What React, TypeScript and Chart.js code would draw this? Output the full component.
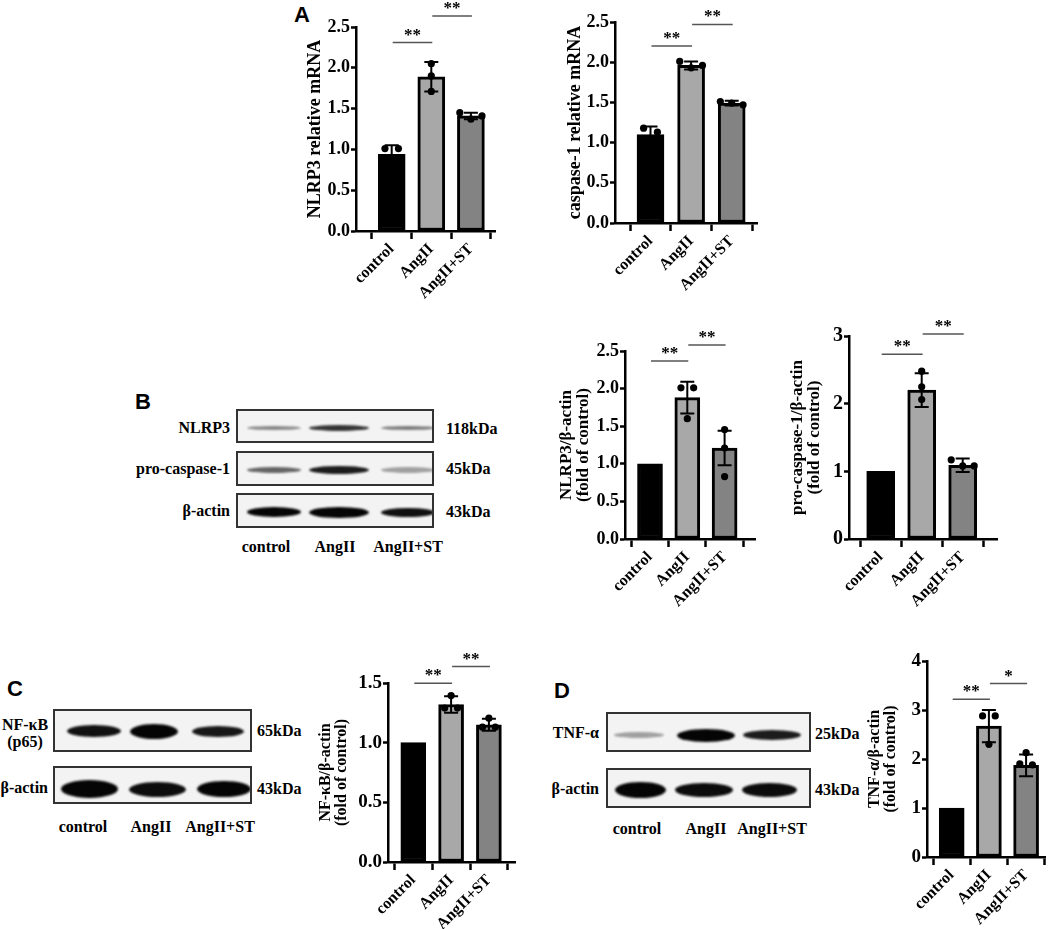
import React, { useEffect, useRef } from 'react';
import { Chart, registerables } from 'chart.js';

Chart.register(...registerables);

const SERIF = '"Liberation Serif", "Times New Roman", serif';
const SANS = '"Liberation Sans", Arial, sans-serif';

// ---------- data ----------
const groups = ['control', 'AngII', 'AngII+ST'];
const barFills = ['#000000', '#a8a8a8', '#838383'];

// Panel A: relative mRNA
const nlrp3MrnaMean = [0.94, 1.89, 1.41];
const nlrp3MrnaSd = [0.11, 0.18, 0.04];
const nlrp3MrnaPoints = [[1.01, 1.01, 0.8], [2.05, 1.9, 1.71], [1.45, 1.37, 1.41]];
const nlrp3MrnaSig = ['**', '**'];

const casp1MrnaMean = [1.1, 1.96, 1.49];
const casp1MrnaSd = [0.1, 0.05, 0.03];
const casp1MrnaPoints = [[1.18, 1.13, 0.99], [2.01, 1.93, 1.96], [1.51, 1.49, 1.47]];
const casp1MrnaSig = ['**', '**'];

const mrnaTicks = [0, 0.5, 1.0, 1.5, 2.0, 2.5];

// Panel B: protein / beta-actin
const nlrp3ProtMean = [1.0, 1.88, 1.21];
const nlrp3ProtSd = [null, 0.21, 0.23];
const nlrp3ProtPoints = [[], [2.01, 2.01, 1.6], [1.455, 1.21, 0.83]];
const nlrp3ProtSig = ['**', '**'];
const nlrp3ProtTicks = [0, 0.5, 1.0, 1.5, 2.0, 2.5];

const procaspMean = [1.0, 2.2, 1.09];
const procaspSd = [null, 0.25, 0.1];
const procaspPoints = [[], [2.48, 2.25, 2.06], [1.17, 1.08, 1.08]];
const procaspSig = ['**', '**'];
const procaspTicks = [0, 1, 2, 3];

// Panel C
const nfkbMean = [1.0, 1.32, 1.15];
const nfkbSd = [null, 0.07, 0.05];
const nfkbPoints = [[], [1.395, 1.29, 1.29], [1.205, 1.13, 1.13]];
const nfkbSig = ['**', '**'];
const nfkbTicks = [0, 0.5, 1.0, 1.5];

// Panel D
const tnfMean = [1.0, 2.67, 1.87];
const tnfSd = [null, 0.33, 0.22];
const tnfPoints = [[], [2.88, 2.88, 2.3], [2.13, 1.9, 1.88]];
const tnfSig = ['**', '*'];
const tnfTicks = [0, 1, 2, 3, 4];

// Western blot band intensities (per lane)
const bNlrp3Bands = [0.45, 0.8, 0.5];
const bProcaspBands = [0.6, 0.9, 0.35];
const bActinBands = [1, 1, 0.95];
const cNfkbBands = [0.95, 1, 0.92];
const cActinBands = [1, 0.97, 1];
const dTnfBands = [0.35, 1, 0.9];
const dActinBands = [1, 0.97, 0.97];

// ---------- chart component ----------
type Sig = { from: number; to: number; y: number };
type ChartSpec = {
  title: string | string[];
  mean: number[];
  sd: (number | null)[];
  points: number[][];
  ticks: number[];
  decimals: number;
  sigText: string[];
  sig: Sig[];
  axisX: number;
  endX: number;
  x0: number;
  dx: number;
  topY: number;
  zeroY: number;
  barPx: number;
  titleDist: number;
  tickSize: number;
  titleSize: number;
};

function spreadOffsets(values: number[], tol: number): number[] {
  const n = values.length;
  const parent = values.map((_, i) => i);
  const find = (i: number): number => (parent[i] === i ? i : (parent[i] = find(parent[i])));
  for (let i = 0; i < n; i++)
    for (let j = i + 1; j < n; j++)
      if (Math.abs(values[i] - values[j]) < tol) parent[find(i)] = find(j);
  const clusters: Record<number, number[]> = {};
  for (let i = 0; i < n; i++) {
    const r = find(i);
    (clusters[r] = clusters[r] || []).push(i);
  }
  const out = new Array(n).fill(0);
  Object.values(clusters).forEach((idx) => {
    if (idx.length === 2) {
      out[idx[0]] = -0.17;
      out[idx[1]] = 0.17;
    } else if (idx.length >= 3) {
      idx.forEach((k, m) => (out[k] = (m - (idx.length - 1) / 2) * 0.28));
    }
  });
  return out;
}

const W = 85;
const H = 90;
const T = 42;
const R = 8;

function BarChart({ spec }: { spec: ChartSpec }) {
  const ref = useRef<HTMLCanvasElement>(null);
  const left = Math.round(spec.axisX) - W;
  const top = Math.round(spec.topY) - T;
  const width = W + Math.round(spec.endX - spec.axisX) + R;
  const height = T + Math.round(spec.zeroY - spec.topY) + H;

  useEffect(() => {
    const ymax = spec.ticks[spec.ticks.length - 1];
    const xmin = (spec.axisX - spec.x0) / spec.dx;
    const xmax = (spec.endX - spec.x0) / spec.dx;
    const scatter: { x: number; y: number }[] = [];
    spec.points.forEach((vals, i) => {
      const offs = spreadOffsets(vals, ymax * 0.035);
      vals.forEach((v, k) => scatter.push({ x: i + offs[k], y: v }));
    });
    const lh = 1.0;
    const titleFont = { family: SERIF, size: spec.titleSize, weight: 'bold' as const, lineHeight: lh };
    const titlePad = W - spec.titleDist - (spec.titleSize * lh) / 2;

    const overlay = {
      id: 'overlay',
      afterDatasetsDraw(chart: any) {
        const ctx = chart.ctx;
        const xs = chart.scales.x;
        const ys = chart.scales.y;
        ctx.save();
        // error bars
        ctx.strokeStyle = '#000';
        ctx.lineWidth = 2;
        spec.mean.forEach((m, i) => {
          const s = spec.sd[i];
          if (s == null) return;
          const px = xs.getPixelForValue(i);
          const yt = ys.getPixelForValue(m + s);
          const yb = ys.getPixelForValue(m - s);
          ctx.beginPath();
          ctx.moveTo(px, yt);
          ctx.lineTo(px, yb);
          ctx.moveTo(px - 7, yt);
          ctx.lineTo(px + 7, yt);
          ctx.moveTo(px - 7, yb);
          ctx.lineTo(px + 7, yb);
          ctx.stroke();
        });
        // significance brackets
        ctx.strokeStyle = '#555';
        ctx.lineWidth = 1.5;
        ctx.fillStyle = '#000';
        ctx.font = `bold 17px ${SERIF}`;
        ctx.textAlign = 'center';
        ctx.textBaseline = 'alphabetic';
        spec.sig.forEach((sg, k) => {
          const x1 = xs.getPixelForValue(sg.from) + 1;
          const x2 = xs.getPixelForValue(sg.to) + 1;
          const y = ys.getPixelForValue(sg.y);
          ctx.beginPath();
          ctx.moveTo(x1, y);
          ctx.lineTo(x2, y);
          ctx.stroke();
          ctx.fillText(spec.sigText[k], (x1 + x2) / 2, y - 3);
        });
        ctx.restore();
      },
    };

    const chart = new Chart(ref.current!, {
      type: 'bar',
      data: {
        datasets: [
          {
            type: 'bar',
            data: groups.map((_, i) => ({ x: i, y: spec.mean[i] })),
            backgroundColor: barFills,
            borderColor: '#000',
            borderWidth: 3,
            borderSkipped: false,
            barThickness: spec.barPx,
            order: 2,
          } as any,
          {
            type: 'scatter',
            data: scatter,
            pointRadius: 3.6,
            pointBackgroundColor: '#000',
            pointBorderWidth: 0,
            showLine: false,
            order: 1,
          } as any,
        ],
      },
      options: {
        responsive: false,
        animation: false,
        events: [],
        layout: { padding: { left: 0, right: R, top: T, bottom: 0 } },
        plugins: { legend: { display: false }, tooltip: { enabled: false } },
        scales: {
          x: {
            type: 'linear',
            min: xmin,
            max: xmax,
            offset: false,
            afterBuildTicks: (s: any) => {
              s.ticks = groups.map((_, i) => ({ value: i }));
            },
            afterFit: (s: any) => {
              s.height = H;
              s.paddingLeft = 0;
              s.paddingRight = 0;
            },
            ticks: {
              autoSkip: false,
              minRotation: 45,
              maxRotation: 45,
              padding: 1,
              color: '#000',
              font: { family: SERIF, size: 16, weight: 'bold' },
              callback: (v: any) => groups[Math.round(Number(v))] ?? '',
            },
            grid: {
              display: true,
              drawOnChartArea: false,
              drawTicks: true,
              tickLength: 8,
              tickWidth: 2.5,
              tickColor: '#000',
            },
            border: { display: true, color: '#000', width: 2.5 },
          },
          y: {
            type: 'linear',
            min: 0,
            max: ymax,
            afterBuildTicks: (s: any) => {
              s.ticks = spec.ticks.map((v) => ({ value: v }));
            },
            afterFit: (s: any) => {
              s.width = W;
              s.paddingTop = 0;
              s.paddingBottom = 0;
            },
            ticks: {
              padding: 1,
              color: '#000',
              font: { family: SERIF, size: spec.tickSize, weight: 'bold' },
              callback: (v: any) => Number(v).toFixed(spec.decimals),
            },
            grid: {
              display: true,
              drawOnChartArea: false,
              drawTicks: true,
              tickLength: 5,
              tickWidth: 2.5,
              tickColor: '#000',
            },
            border: { display: true, color: '#000', width: 2.5 },
            title: {
              display: true,
              text: spec.title,
              color: '#000',
              font: titleFont,
              padding: { top: titlePad, bottom: 0 },
            },
          },
        },
      } as any,
      plugins: [overlay],
    });
    return () => chart.destroy();
  }, []);

  return (
    <canvas
      ref={ref}
      width={width}
      height={height}
      style={{ position: 'absolute', left, top, width, height }}
    />
  );
}

// ---------- blot drawing ----------
type Lane = { cx: number; w: number };
function BlotRow({
  x1,
  x2,
  top,
  h,
  lanes,
  bandH,
  intens,
  bandY,
}: {
  x1: number;
  x2: number;
  top: number;
  h: number;
  lanes: Lane[];
  bandH: number[];
  intens: number[];
  bandY: number;
}) {
  return (
    <div
      style={{
        position: 'absolute',
        left: x1,
        top,
        width: x2 - x1,
        height: h,
        border: '2px solid #333',
        boxSizing: 'border-box',
        background: '#f3f3f3',
        overflow: 'hidden',
      }}
    >
      {lanes.map((ln, i) => (
        <div
          key={i}
          style={{
            position: 'absolute',
            left: ln.cx - x1 - ln.w / 2,
            top: bandY - top - bandH[i] / 2,
            width: ln.w,
            height: bandH[i],
            borderRadius: '50%',
            background: '#050505',
            opacity: intens[i],
            filter: 'blur(1.2px)',
          }}
        />
      ))}
    </div>
  );
}

function Txt({
  x,
  y,
  text,
  align = 'center',
  size = 16,
  font = SERIF,
}: {
  x: number;
  y: number;
  text: string;
  align?: 'left' | 'right' | 'center';
  size?: number;
  font?: string;
}) {
  const tx = align === 'center' ? '-50%' : align === 'right' ? '-100%' : '0';
  return (
    <div
      style={{
        position: 'absolute',
        left: x,
        top: y,
        transform: `translate(${tx}, -50%)`,
        fontFamily: font,
        fontWeight: 'bold',
        fontSize: size,
        lineHeight: `${Math.round(size * 1.2)}px`,
        whiteSpace: 'nowrap',
        color: '#000',
      }}
    >
      {text}
    </div>
  );
}

// ---------- chart specs ----------
const specA1: ChartSpec = {
  title: 'NLRP3 relative mRNA',
  mean: nlrp3MrnaMean,
  sd: nlrp3MrnaSd,
  points: nlrp3MrnaPoints,
  ticks: mrnaTicks,
  decimals: 1,
  sigText: nlrp3MrnaSig,
  sig: [
    { from: 0, to: 1, y: 2.31 },
    { from: 1, to: 2, y: 2.635 },
  ],
  axisX: 356,
  endX: 495,
  x0: 391.7,
  dx: 39.6,
  topY: 27,
  zeroY: 231,
  barPx: 27,
  titleDist: 41,
  tickSize: 18,
  titleSize: 18,
};
const specA2: ChartSpec = {
  title: 'caspase-1 relative mRNA',
  mean: casp1MrnaMean,
  sd: casp1MrnaSd,
  points: casp1MrnaPoints,
  ticks: mrnaTicks,
  decimals: 1,
  sigText: casp1MrnaSig,
  sig: [
    { from: 0, to: 1, y: 2.2 },
    { from: 1, to: 2, y: 2.47 },
  ],
  axisX: 615,
  endX: 757,
  x0: 650.5,
  dx: 40.6,
  topY: 21.7,
  zeroY: 223,
  barPx: 27,
  titleDist: 40,
  tickSize: 18,
  titleSize: 18,
};
const specB1: ChartSpec = {
  title: ['NLRP3/β-actin', '(fold of control)'],
  mean: nlrp3ProtMean,
  sd: nlrp3ProtSd,
  points: nlrp3ProtPoints,
  ticks: nlrp3ProtTicks,
  decimals: 1,
  sigText: nlrp3ProtSig,
  sig: [
    { from: 0, to: 1, y: 2.368 },
    { from: 1, to: 2, y: 2.58 },
  ],
  axisX: 625,
  endX: 755,
  x0: 650,
  dx: 37.3,
  topY: 350.7,
  zeroY: 539,
  barPx: 25,
  titleDist: 58,
  tickSize: 18,
  titleSize: 17,
};
const specB2: ChartSpec = {
  title: ['pro-caspase-1/β-actin', '(fold of control)'],
  mean: procaspMean,
  sd: procaspSd,
  points: procaspPoints,
  ticks: procaspTicks,
  decimals: 0,
  sigText: procaspSig,
  sig: [
    { from: 0, to: 1, y: 2.73 },
    { from: 1, to: 2, y: 3.03 },
  ],
  axisX: 849,
  endX: 997,
  x0: 880.7,
  dx: 41,
  topY: 336,
  zeroY: 539,
  barPx: 28,
  titleDist: 51,
  tickSize: 20,
  titleSize: 17,
};
const specC: ChartSpec = {
  title: ['NF-κB/β-actin', '(fold of control)'],
  mean: nfkbMean,
  sd: nfkbSd,
  points: nfkbPoints,
  ticks: nfkbTicks,
  decimals: 1,
  sigText: nfkbSig,
  sig: [
    { from: 0, to: 1, y: 1.497 },
    { from: 1, to: 2, y: 1.638 },
  ],
  axisX: 388,
  endX: 515,
  x0: 413.3,
  dx: 37.8,
  topY: 683.3,
  zeroY: 862,
  barPx: 25,
  titleDist: 62,
  tickSize: 19,
  titleSize: 16,
};
const specD: ChartSpec = {
  title: ['TNF-α/β-actin', '(fold of control)'],
  mean: tnfMean,
  sd: tnfSd,
  points: tnfPoints,
  ticks: tnfTicks,
  decimals: 0,
  sigText: tnfSig,
  sig: [
    { from: 0, to: 1, y: 3.22 },
    { from: 1, to: 2, y: 3.54 },
  ],
  axisX: 927,
  endX: 1045,
  x0: 951.7,
  dx: 37.2,
  topY: 660.7,
  zeroY: 856.7,
  barPx: 25,
  titleDist: 52,
  tickSize: 19,
  titleSize: 16,
};

const bLanes: Lane[] = [
  { cx: 272, w: 54 },
  { cx: 337, w: 60 },
  { cx: 406, w: 54 },
];
const cLanes1: Lane[] = [
  { cx: 92, w: 54 },
  { cx: 152, w: 48 },
  { cx: 216, w: 52 },
];
const cLanes2: Lane[] = [
  { cx: 87, w: 57 },
  { cx: 155, w: 57 },
  { cx: 222, w: 54 },
];
const dLanes1: Lane[] = [
  { cx: 637, w: 50 },
  { cx: 704, w: 58 },
  { cx: 770, w: 58 },
];
const dLanes2: Lane[] = [
  { cx: 638, w: 51 },
  { cx: 702, w: 58 },
  { cx: 767, w: 55 },
];

export default function App() {
  return (
    <div
      style={{
        position: 'absolute',
        left: 0,
        top: 0,
        width: 1052,
        height: 929,
        overflow: 'hidden',
        background: '#fff',
      }}
    >
      {/* panel letters */}
      <Txt x={302} y={15} text="A" size={22} font={SANS} />
      <Txt x={143} y={402} text="B" size={22} font={SANS} />
      <Txt x={15} y={689} text="C" size={22} font={SANS} />
      <Txt x={562} y={691} text="D" size={22} font={SANS} />

      {/* Panel B blot */}
      <BlotRow x1={236} x2={434} top={409} h={34} lanes={bLanes} bandH={[4, 6, 4]} intens={bNlrp3Bands} bandY={426} />
      <BlotRow x1={236} x2={434} top={451} h={35} lanes={bLanes} bandH={[6, 8, 6]} intens={bProcaspBands} bandY={468} />
      <BlotRow x1={236} x2={434} top={493} h={35} lanes={bLanes} bandH={[10, 11, 9]} intens={bActinBands} bandY={510} />
      <Txt x={230} y={427} text="NLRP3" align="right" />
      <Txt x={230} y={468} text="pro-caspase-1" align="right" />
      <Txt x={230} y={510} text="β-actin" align="right" />
      <Txt x={446} y={428} text="118kDa" align="left" />
      <Txt x={446} y={468} text="45kDa" align="left" />
      <Txt x={446} y={511} text="43kDa" align="left" />
      <Txt x={266} y={546} text="control" />
      <Txt x={335} y={546} text="AngII" />
      <Txt x={408} y={546} text="AngII+ST" />

      {/* Panel C blot */}
      <BlotRow x1={53} x2={252} top={709} h={43} lanes={cLanes1} bandH={[12, 15, 11]} intens={cNfkbBands} bandY={729} />
      <BlotRow x1={53} x2={252} top={766} h={38} lanes={cLanes2} bandH={[18, 15, 16]} intens={cActinBands} bandY={787} />
      <Txt x={25} y={724} text="NF-κB" />
      <Txt x={25} y={741} text="(p65)" />
      <Txt x={48} y={787} text="β-actin" align="right" />
      <Txt x={257} y={730} text="65kDa" align="left" />
      <Txt x={257} y={788} text="43kDa" align="left" />
      <Txt x={83} y={826} text="control" />
      <Txt x={151} y={826} text="AngII" />
      <Txt x={220} y={826} text="AngII+ST" />

      {/* Panel D blot */}
      <BlotRow x1={606} x2={811} top={712} h={40} lanes={dLanes1} bandH={[6, 13, 10]} intens={dTnfBands} bandY={733} />
      <BlotRow x1={606} x2={811} top={768} h={40} lanes={dLanes2} bandH={[16, 14, 14]} intens={dActinBands} bandY={788} />
      <Txt x={599} y={732} text="TNF-α" align="right" />
      <Txt x={599} y={788} text="β-actin" align="right" />
      <Txt x={815} y={733} text="25kDa" align="left" />
      <Txt x={815} y={789} text="43kDa" align="left" />
      <Txt x={637} y={828} text="control" />
      <Txt x={706} y={828} text="AngII" />
      <Txt x={772} y={828} text="AngII+ST" />

      {/* charts */}
      <BarChart spec={specA1} />
      <BarChart spec={specA2} />
      <BarChart spec={specB1} />
      <BarChart spec={specB2} />
      <BarChart spec={specC} />
      <BarChart spec={specD} />
    </div>
  );
}
